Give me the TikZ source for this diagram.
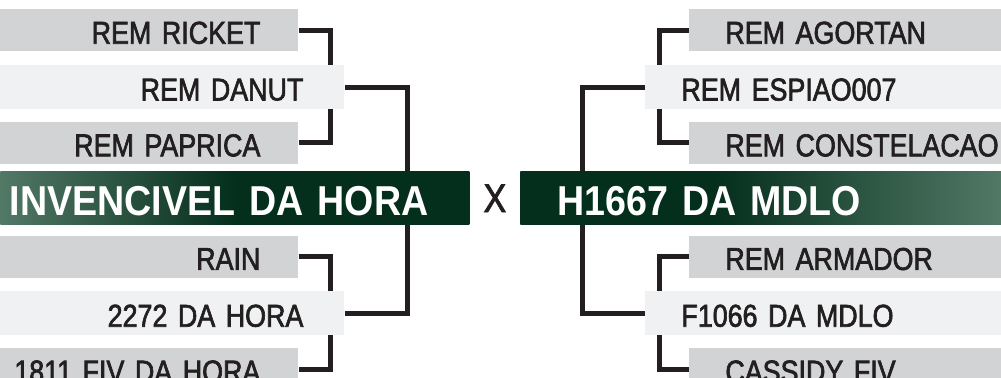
\documentclass[tikz,border=0pt]{standalone}
\usepackage{fontspec}
\setmainfont{Liberation Sans}
\newfontfamily\namefont[FakeStretch=0.85,FakeBold=2,WordSpace=0.5]{Liberation Sans}
\newfontfamily\teamfont[FakeStretch=0.9,WordSpace=0.55]{Liberation Sans}
\usetikzlibrary{positioning,calc,backgrounds}
\definecolor{ink}{RGB}{35,31,32}
\definecolor{bargray}{RGB}{209,211,212}
\definecolor{barlight}{RGB}{240,241,242}
\definecolor{gdark}{RGB}{4,47,28}
\definecolor{glight}{RGB}{82,120,102}
\pgfdeclarehorizontalshading{teamleft}{100bp}{color(0bp)=(glight); color(25bp)=(glight); color(50bp)=(gdark); color(100bp)=(gdark)}
\pgfdeclarehorizontalshading{teamright}{100bp}{color(0bp)=(gdark); color(45bp)=(gdark); color(75bp)=(glight); color(100bp)=(glight)}

\begin{document}
\begin{tikzpicture}[x=0.5pt, y=-0.5pt,
  bar/.style={inner xsep=0pt, inner ysep=0pt, text=ink, text height=13.3pt, text depth=0pt,
              font=\namefont\fontsize{15.8pt}{18pt}\selectfont},
  lbar/.style={bar, align=right, anchor=west},
  rbar/.style={bar, align=left, anchor=west, execute at begin node={\kern18pt}},
  grayL/.style={lbar, fill=bargray, minimum height=21pt, text width=149pt, execute at end node={\kern19pt}},
  lightL/.style={lbar, fill=barlight, minimum height=22pt, text width=172pt, execute at end node={\kern20.5pt}},
  grayR/.style={rbar, fill=bargray, minimum height=21pt, text width=160pt},
  lightR/.style={rbar, fill=barlight, minimum height=22pt, text width=180pt},
  team/.style={inner xsep=0pt, inner ysep=0pt, text=white, text height=17pt, text depth=0pt,
               minimum height=26.5pt, font=\teamfont\bfseries\fontsize{20.9pt}{24pt}\selectfont},
  teamL/.style={team, align=right, anchor=west, shade, shading=teamleft, text width=234.5pt,
                execute at end node={\kern20.5pt}},
  teamR/.style={team, align=left, anchor=west, shade, shading=teamright, text width=241pt,
                execute at begin node={\kern18.5pt}},
  vs/.style={inner sep=0pt, text=ink, font=\namefont\fontsize{20pt}{22pt}\selectfont},
  link/.style={draw=ink, line width=2.5pt}
]
\begin{scope}[on background layer]
\fill[white] (0,0) rectangle (1001,378);
\end{scope}
\useasboundingbox (0,0) rectangle (1001,378);

\node[grayL, anchor=north west] (ricket) at (0,9) {REM RICKET};
\node[lightL, below=6.5pt of ricket.south west, anchor=north west] (danut) {REM DANUT};
\node[grayL, below=6pt of danut.south west, anchor=north west] (paprica) {REM PAPRICA};
\node[teamL, below=3.5pt of paprica.south west, anchor=north west] (homeL) {INVENCIVEL DA HORA};
\node[grayL, below=5pt of homeL.south west, anchor=north west] (rain) {RAIN};
\node[lightL, below=6.5pt of rain.south west, anchor=north west] (hora2272) {2272 DA HORA};
\node[grayL, below=6pt of hora2272.south west, anchor=north west] (fiv1811) {1811 FIV DA HORA};

\coordinate (rcol) at (689,0);
\coordinate (rmid) at (645,0);
\coordinate (rteam) at (520,0);
\node[grayR] (agortan) at (ricket.west -| rcol) {REM AGORTAN};
\node[lightR] (espiao) at (danut.west -| rmid) {REM ESPIAO007};
\node[grayR] (constelacao) at (paprica.west -| rcol) {REM CONSTELACAO};
\node[teamR] (awayR) at (homeL.west -| rteam) {H1667 DA MDLO};
\node[grayR] (armador) at (rain.west -| rcol) {REM ARMADOR};
\node[lightR] (f1066) at (hora2272.west -| rmid) {F1066 DA MDLO};
\node[grayR] (cassidy) at (fiv1811.west -| rcol) {CASSIDY FIV};

\node[vs] (versus) at ($(homeL.east)!.5!(awayR.west)$) {X};

\begin{scope}[on background layer]
\draw[link] (ricket.east) -- ++(32,0) |- (paprica.east);
\draw[link] (danut.east) -- ++(63,0) |- (hora2272.east);
\draw[link] (rain.east) -- ++(32,0) |- (fiv1811.east);
\draw[link] (agortan.west) -- ++(-30,0) |- (constelacao.west);
\draw[link] (espiao.west) -- ++(-63,0) |- (f1066.west);
\draw[link] (armador.west) -- ++(-30,0) |- (cassidy.west);
\end{scope}
\end{tikzpicture}
\end{document}
